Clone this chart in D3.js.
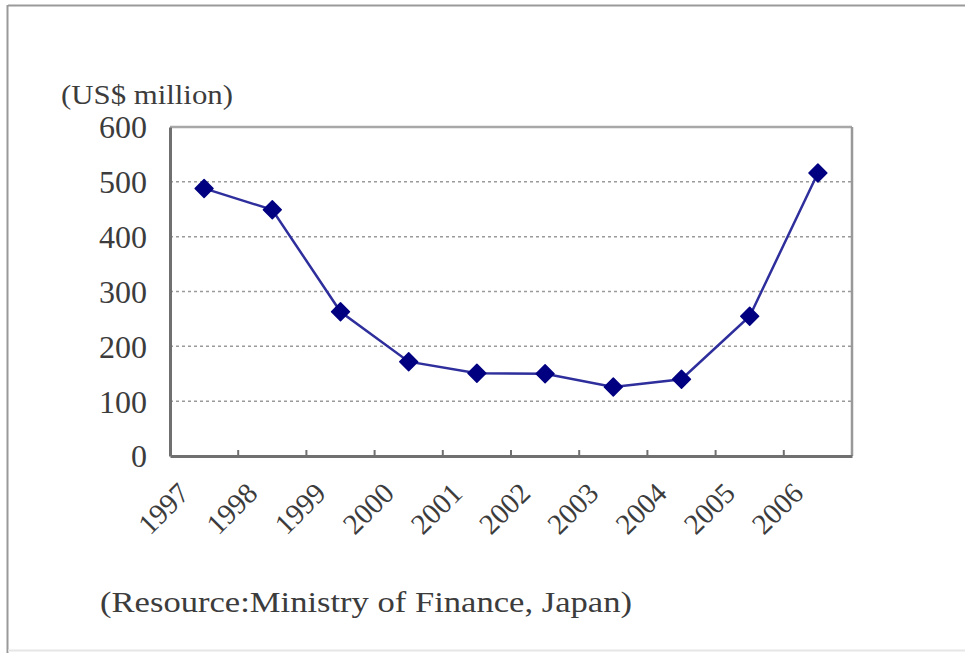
<!DOCTYPE html>
<html>
<head>
<meta charset="utf-8">
<script src="https://cdn.jsdelivr.net/npm/d3@7"></script>
<style>
  html, body { margin: 0; padding: 0; background: #fff; }
  svg { display: block; }
</style>
</head>
<body>
<svg id="chart" width="965" height="653"></svg>
<script>
// values (US$ million)
const years = ['1997', '1998', '1999', '2000', '2001', '2002', '2003', '2004', '2005', '2006'];
const values = [488, 449, 263, 172, 151, 150, 126, 140, 255, 516];
const yTicks = [0, 100, 200, 300, 400, 500, 600];
const yTitle = '(US$ million)';
const source = '(Resource:Ministry of Finance, Japan)';

const svg = d3.select('#chart');
const FONT = '"Liberation Serif", "DejaVu Serif", serif';
const INK = '#3c3c3c';
const m = { left: 170, top: 127, right: 852, bottom: 456 };

// outer frame
svg.append('line').attr('x1', 8).attr('x2', 965).attr('y1', 5.5).attr('y2', 5.5)
  .attr('stroke', '#9a9a9a').attr('stroke-width', 2);
svg.append('line').attr('x1', 7.5).attr('x2', 7.5).attr('y1', 5).attr('y2', 653)
  .attr('stroke', '#9a9a9a').attr('stroke-width', 2);
svg.append('line').attr('x1', 8).attr('x2', 965).attr('y1', 650.5).attr('y2', 650.5)
  .attr('stroke', '#e6e6e6').attr('stroke-width', 2);

const x = d3.scaleBand().domain(years).range([m.left, m.right]);
const y = d3.scaleLinear().domain([0, 600]).range([m.bottom, m.top]);
const cx = d => x(d) + x.bandwidth() / 2;

// gridlines
svg.append('g').selectAll('line').data(yTicks.filter(d => d > 0 && d < 600)).join('line')
  .attr('x1', m.left).attr('x2', m.right)
  .attr('y1', d => y(d)).attr('y2', d => y(d))
  .attr('stroke', '#9a9a9a').attr('stroke-width', 1.5).attr('stroke-dasharray', '3 3');

// plot frame: light top/right, dark left/bottom
svg.append('line').attr('x1', m.left).attr('x2', m.right).attr('y1', m.top).attr('y2', m.top)
  .attr('stroke', '#a8a8a8').attr('stroke-width', 2.5);
svg.append('line').attr('x1', m.right).attr('x2', m.right).attr('y1', m.top).attr('y2', m.bottom)
  .attr('stroke', '#999').attr('stroke-width', 2.5);

const yAxis = svg.append('g').attr('transform', `translate(${m.left},0)`)
  .call(d3.axisLeft(y).tickValues(yTicks).tickSize(0).tickPadding(23));
const xAxis = svg.append('g').attr('transform', `translate(0,${m.bottom})`)
  .call(d3.axisBottom(x).tickSize(0).tickFormat(''));
[yAxis, xAxis].forEach(g => g.select('.domain').attr('stroke', '#707070').attr('stroke-width', 3));

// category boundary ticks on x axis
svg.append('g').selectAll('line').data(years.slice(1)).join('line')
  .attr('x1', d => x(d)).attr('x2', d => x(d))
  .attr('y1', m.bottom - 6).attr('y2', m.bottom)
  .attr('stroke', '#707070').attr('stroke-width', 2);

yAxis.selectAll('text')
  .attr('font-family', FONT).attr('font-size', 32).attr('fill', INK)
  .attr('dy', '0.34em');

// rotated year labels
svg.append('g').selectAll('text').data(years).join('text')
  .attr('transform', d => `translate(${cx(d) - 20},${m.bottom + 32}) rotate(-45)`)
  .attr('text-anchor', 'end').attr('dy', '0.34em')
  .attr('font-family', FONT).attr('font-size', 29).attr('fill', INK)
  .text(d => d);

// series line and diamond markers
const line = d3.line().x((d, i) => cx(years[i])).y(d => y(d));
svg.append('path').datum(values).attr('d', line)
  .attr('fill', 'none').attr('stroke', '#2e2e9c').attr('stroke-width', 2.5);
svg.append('g').selectAll('path').data(values).join('path')
  .attr('transform', (d, i) => `translate(${cx(years[i])},${y(d)}) rotate(45)`)
  .attr('d', d3.symbol(d3.symbolSquare, 160))
  .attr('fill', '#000080')
  .attr('stroke', '#000080').attr('stroke-width', 1.5).attr('stroke-linejoin', 'round');

// titles
svg.append('text').attr('x', 61).attr('y', 104)
  .attr('font-family', FONT).attr('font-size', 27).attr('fill', INK)
  .attr('textLength', 172).attr('lengthAdjust', 'spacingAndGlyphs')
  .text(yTitle);
svg.append('text').attr('x', 100).attr('y', 612)
  .attr('font-family', FONT).attr('font-size', 30).attr('fill', INK)
  .attr('textLength', 532).attr('lengthAdjust', 'spacingAndGlyphs')
  .text(source);
</script>
</body>
</html>
